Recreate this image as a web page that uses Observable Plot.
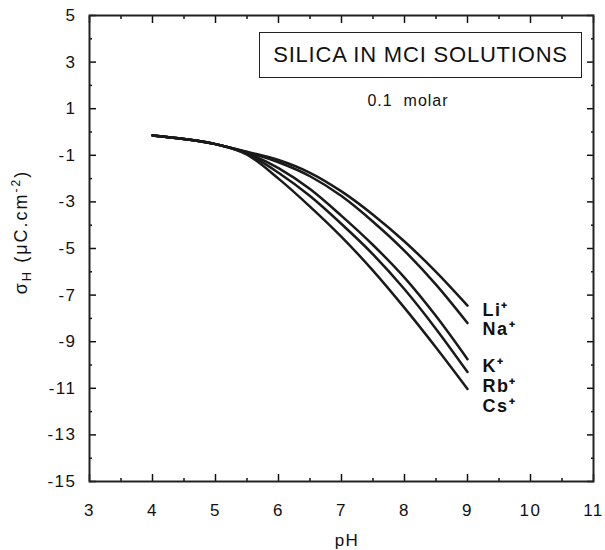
<!DOCTYPE html>
<html>
<head>
<meta charset="utf-8">
<script src="https://cdn.jsdelivr.net/npm/d3@7"></script>
<script src="https://cdn.jsdelivr.net/npm/@observablehq/plot@0.6"></script>
<style>
  html, body { margin: 0; padding: 0; background: #fff; }
  #wrap { position: relative; width: 605px; height: 550px; font-family: "Liberation Sans", Arial, Helvetica, sans-serif; }
  #titlebox { position: absolute; left: 259px; top: 32px; width: 321px; height: 44px; border: 1.5px solid #222;
    display: flex; align-items: center; justify-content: center; font-size: 22px; letter-spacing: 0.8px; color: #111; background: #fff; }
  #sub { position: absolute; left: 258px; width: 300px; top: 92px; text-align: center; font-size: 16px; letter-spacing: 1px; white-space: pre; color: #111; }
</style>
</head>
<body>
<div id="wrap">
  <div id="chart"></div>
  <div id="titlebox">SILICA IN MCI SOLUTIONS</div>
  <div id="sub">0.1  molar</div>
</div>
<script>
const pH = [4, 4.5, 5, 5.5, 6, 6.5, 7, 7.5, 8, 8.5, 9];
const ions = ["Li", "Na", "K", "Rb", "Cs"];
const labels = ["Li⁺", "Na⁺", "K⁺", "Rb⁺", "Cs⁺"];
const liValues = [-0.15, -0.3, -0.52, -0.85, -1.2, -1.75, -2.55, -3.55, -4.7, -6.0, -7.45];
const naValues = [-0.15, -0.3, -0.52, -0.87, -1.3, -1.9, -2.75, -3.85, -5.1, -6.55, -8.2];
const kValues  = [-0.15, -0.3, -0.52, -0.9, -1.55, -2.45, -3.6, -4.85, -6.25, -7.9, -9.75];
const rbValues = [-0.15, -0.3, -0.52, -0.93, -1.75, -2.75, -3.95, -5.25, -6.75, -8.45, -10.3];
const csValues = [-0.15, -0.3, -0.52, -0.97, -2.0, -3.2, -4.5, -5.95, -7.55, -9.25, -11.03];
const labelY = [-7.65, -8.46, -10.04, -10.9, -11.76];
const xMajor = [3, 4, 5, 6, 7, 8, 9, 10, 11];
const xMinor = [3.5, 4.5, 5.5, 6.5, 7.5, 8.5, 9.5, 10.5];
const yMajor = [5, 3, 1, -1, -3, -5, -7, -9, -11, -13, -15];
const yMinor = [4, 2, 0, -2, -4, -6, -8, -10, -12, -14];

const series = [liValues, naValues, kValues, rbValues, csValues];
const rows = [];
series.forEach((vals, i) => vals.forEach((v, j) => rows.push({ion: ions[i], pH: pH[j], v})));
const labelRows = ions.map((ion, i) => ({ion, text: labels[i], y: labelY[i], x: pH[pH.length - 1]}));

const blank = () => "";
const fontFamily = '"Liberation Sans", Arial, Helvetica, sans-serif';

const chart = Plot.plot({
  width: 605,
  height: 550,
  marginTop: 15,
  marginRight: 12,
  marginBottom: 69,
  marginLeft: 89,
  style: {fontFamily, fontSize: "17px", color: "#111", background: "#fff", letterSpacing: "1.5px"},
  x: {domain: [3, 11], label: null},
  y: {domain: [-15, 5], label: null},
  marks: [
    Plot.axisY(yMajor, {anchor: "left", tickSize: 0, tickPadding: 13, tickFormat: d => String(d), fontSize: 17, label: null}),
    Plot.axisX(xMajor, {anchor: "bottom", tickSize: 0, tickPadding: 22, tickFormat: d => String(d), fontSize: 17, label: null}),
    Plot.axisY(yMajor, {anchor: "left", tickSize: -7, tickFormat: blank, label: null, strokeWidth: 1.5}),
    Plot.axisY(yMinor, {anchor: "left", tickSize: -3, tickFormat: blank, label: null, strokeWidth: 1.5}),
    Plot.axisY(yMajor, {anchor: "right", tickSize: -7, tickFormat: blank, label: null, strokeWidth: 1.5}),
    Plot.axisY(yMinor, {anchor: "right", tickSize: -3, tickFormat: blank, label: null, strokeWidth: 1.5}),
    Plot.axisX(xMajor, {anchor: "bottom", tickSize: -7, tickFormat: blank, label: null, strokeWidth: 1.5}),
    Plot.axisX(xMinor, {anchor: "bottom", tickSize: -3, tickFormat: blank, label: null, strokeWidth: 1.5}),
    Plot.axisX(xMajor, {anchor: "top", tickSize: -7, tickFormat: blank, label: null, strokeWidth: 1.5}),
    Plot.axisX(xMinor, {anchor: "top", tickSize: -3, tickFormat: blank, label: null, strokeWidth: 1.5}),
    Plot.frame({stroke: "#222", strokeWidth: 2}),
    Plot.line(rows, {x: "pH", y: "v", z: "ion", curve: "monotone-x", stroke: "#1a1a1a", strokeWidth: 2.5}),
    Plot.text(labelRows, {x: "x", y: "y", text: "text", dx: 15, textAnchor: "start", fontWeight: "bold", fontSize: 18, fill: "#111"})
  ]
});
document.getElementById("chart").appendChild(chart);

// axis titles with sub/superscripts
const svg = d3.select(chart);
const xs = chart.scale("x");
const xMid = (xs.range[0] + xs.range[1]) / 2;
const yl = svg.append("text")
  .attr("transform", `translate(27,232) rotate(-90)`)
  .attr("text-anchor", "middle")
  .attr("font-size", 18)
  .attr("letter-spacing", "2px")
  .attr("fill", "#111");
yl.append("tspan").text("σ");
yl.append("tspan").attr("font-size", 13).attr("dy", 4).text("H");
yl.append("tspan").attr("dy", -4).text(" (μC.cm");
yl.append("tspan").attr("font-size", 12).attr("dy", -7).text("-2");
yl.append("tspan").attr("dy", 7).text(")");
svg.append("text")
  .attr("x", xMid + 6).attr("y", 546)
  .attr("text-anchor", "middle")
  .attr("font-size", 17)
  .attr("fill", "#111")
  .text("pH");
</script>
</body>
</html>
